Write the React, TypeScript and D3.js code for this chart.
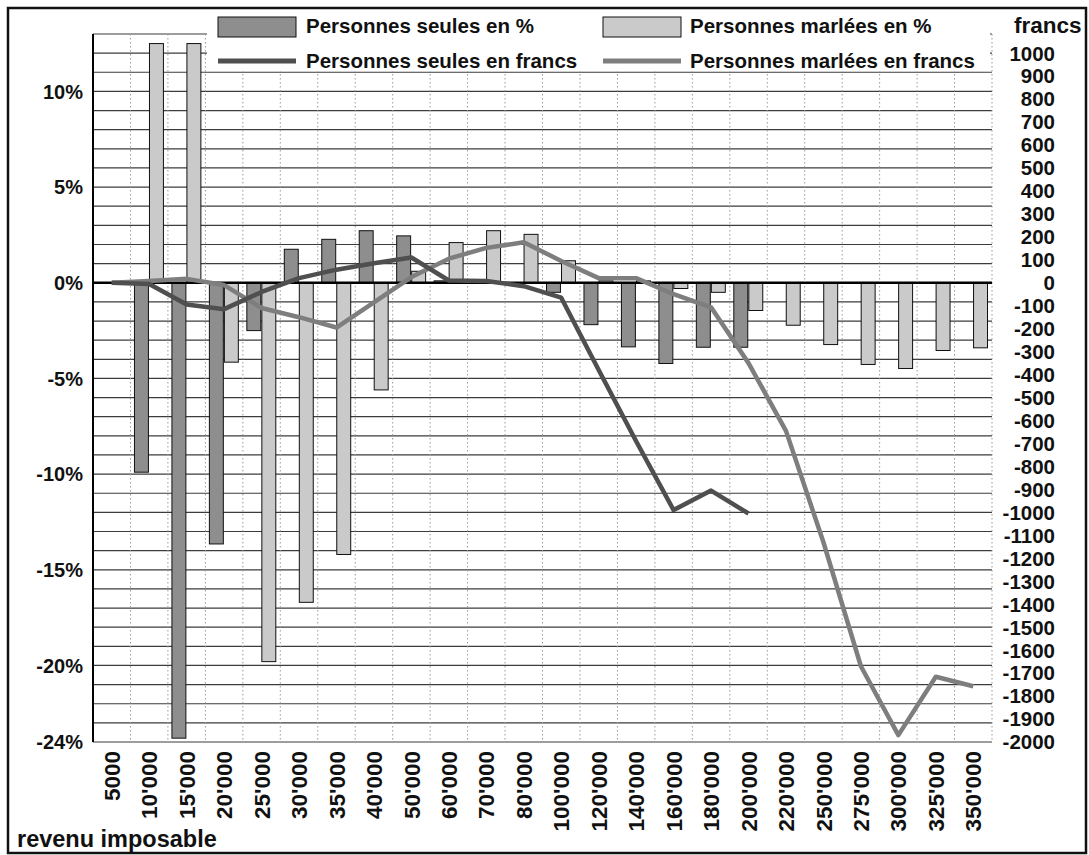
import React from "react";
import { scaleBand, scaleLinear, line, range } from "d3";

// revenu imposable categories
const categories = [
  "5000", "10'000", "15'000", "20'000", "25'000", "30'000", "35'000", "40'000",
  "50'000", "60'000", "70'000", "80'000", "100'000", "120'000", "140'000", "160'000",
  "180'000", "200'000", "220'000", "250'000", "275'000", "300'000", "325'000", "350'000",
];

// bars, in %
const seulesPct = [
  0, -9.9, -23.8, -13.65, -2.5, 1.75, 2.27, 2.72, 2.45, 0.1, 0.05, 0, -0.5, -2.19,
  -3.35, -4.22, -3.37, -3.37, null, null, null, null, null, null,
];
const marieesPct = [
  0, 12.5, 12.5, -4.15, -19.8, -16.7, -14.2, -5.6, 0.6, 2.1, 2.72, 2.53, 1.15, 0.1,
  0.1, -0.3, -0.5, -1.45, -2.22, -3.23, -4.27, -4.48, -3.54, -3.4,
];

// lines, in francs
const seulesFrancs = [
  0, -5, -95, -115, -40, 20, 57, 85, 110, 10, 8, -15, -65, -380, -690, -990, -905, -1005,
];
const marieesFrancs = [
  0, 8, 17, -10, -110, -150, -195, -85, 25, 105, 152, 176, 95, 20, 20, -50, -107,
  -350, -645, -1130, -1670, -1970, -1716, -1757,
];

const pctTicks = [10, 5, 0, -5, -10, -15, -20, -24];
const francTicks = range(1000, -2001, -100);
const gridValues = range(-24, 14, 1);

const FONT = "'Liberation Sans', Arial, Helvetica, sans-serif";
const darkBar = "#8e8e8e";
const lightBar = "#cacaca";
const darkLine = "#4f4f4f";
const lightLine = "#7e7e7e";

export default function App() {
  const W = 1089;
  const H = 855;
  const plot = { left: 93, right: 992, top: 34, bottom: 742 };

  const x = scaleBand().domain(categories).range([plot.left, plot.right]).padding(0);
  const bw = x.bandwidth();
  const sub = scaleBand()
    .domain(["seules", "mariees"])
    .range([bw * 0.107, bw * 0.88])
    .paddingInner(0.07);
  const yPct = scaleLinear().domain([-24, 13]).range([plot.bottom, plot.top]);
  const yFr = scaleLinear().domain([-2000, 0]).range([yPct(-24), yPct(0)]);

  const cx = (i) => x(categories[i]) + bw / 2;
  const pathGen = line()
    .x((_, i) => cx(i))
    .y((d) => yFr(d));

  const bars = (values, key, fill) =>
    values.map((v, i) => {
      if (v === null) return null;
      const y0 = yPct(0);
      const y1 = yPct(v);
      return (
        <rect
          key={`${key}-${i}`}
          x={x(categories[i]) + sub(key)}
          y={Math.min(y0, y1)}
          width={sub.bandwidth()}
          height={Math.max(Math.abs(y1 - y0), 0.5)}
          fill={fill}
          stroke="#111"
          strokeWidth={1}
        />
      );
    });

  return (
    <div style={{ position: "absolute", left: 0, top: 0 }}>
      <svg width={W} height={H} style={{ display: "block", background: "#fff" }}>
        {/* horizontal grid */}
        {gridValues.map((g) => (
          <line
            key={`h${g}`}
            x1={plot.left}
            x2={plot.right}
            y1={yPct(g)}
            y2={yPct(g)}
            stroke="#3c3c3c"
            strokeWidth={1.2}
          />
        ))}
        {/* vertical dotted grid */}
        {categories.map((c) => (
          <line
            key={`v${c}`}
            x1={x(c) + bw}
            x2={x(c) + bw}
            y1={plot.top}
            y2={plot.bottom}
            stroke="#999"
            strokeWidth={1}
            strokeDasharray="1.5,2.5"
          />
        ))}

        {bars(seulesPct, "seules", darkBar)}
        {bars(marieesPct, "mariees", lightBar)}

        {/* zero line and left axis */}
        <line x1={plot.left} x2={plot.right} y1={yPct(0)} y2={yPct(0)} stroke="#000" strokeWidth={2.5} />
        <line x1={plot.left} x2={plot.left} y1={plot.top} y2={plot.bottom} stroke="#000" strokeWidth={2} />

        <path d={pathGen(marieesFrancs)} fill="none" stroke={lightLine} strokeWidth={4.5} strokeLinejoin="round" />
        <path d={pathGen(seulesFrancs)} fill="none" stroke={darkLine} strokeWidth={4.5} strokeLinejoin="round" />

        {/* legend */}
        <rect x={207} y={9} width={783} height={62} fill="#fff" />
        <g fontFamily={FONT} fontWeight="bold" fontSize={20.5} fill="#111">
          <rect x={218} y={17} width={78} height={20} fill={darkBar} stroke="#111" />
          <text x={306} y={33}>Personnes seules en %</text>
          <line x1={218} x2={296} y1={61} y2={61} stroke={darkLine} strokeWidth={5} />
          <text x={306} y={68}>Personnes seules en francs</text>
          <rect x={603} y={17} width={78} height={20} fill={lightBar} stroke="#111" />
          <text x={690} y={33}>Personnes marlées en %</text>
          <line x1={603} x2={681} y1={61} y2={61} stroke={lightLine} strokeWidth={5} />
          <text x={690} y={68}>Personnes marlées en francs</text>
        </g>

        {/* left axis labels */}
        <g fontFamily={FONT} fontWeight="bold" fontSize={20} fill="#111" textAnchor="end">
          {pctTicks.map((t) => (
            <text key={`p${t}`} x={83} y={yPct(t)} dy="0.36em">
              {`${t}%`}
            </text>
          ))}
        </g>

        {/* right axis labels */}
        <g fontFamily={FONT} fontWeight="bold" fontSize={20.5} fill="#111" textAnchor="end">
          {francTicks.map((t) => (
            <text key={`f${t}`} x={1055} y={yFr(t)} dy="0.36em">
              {t}
            </text>
          ))}
          <text x={1014} y={33} textAnchor="start" fontSize={22.5}>
            francs
          </text>
        </g>

        {/* category labels */}
        <g fontFamily={FONT} fontWeight="bold" fontSize={22.5} fill="#111" textAnchor="end">
          {categories.map((c, i) => (
            <text key={`c${c}`} transform={`translate(${cx(i)},751) rotate(-90)`} dy="0.36em">
              {c}
            </text>
          ))}
        </g>
        <text x={17} y={847} fontFamily={FONT} fontWeight="bold" fontSize={23.5} fill="#111">
          revenu imposable
        </text>

        {/* frame */}
        <rect x={8} y={8} width={1078} height={845} fill="none" stroke="#111" strokeWidth={2.5} />
      </svg>
    </div>
  );
}
